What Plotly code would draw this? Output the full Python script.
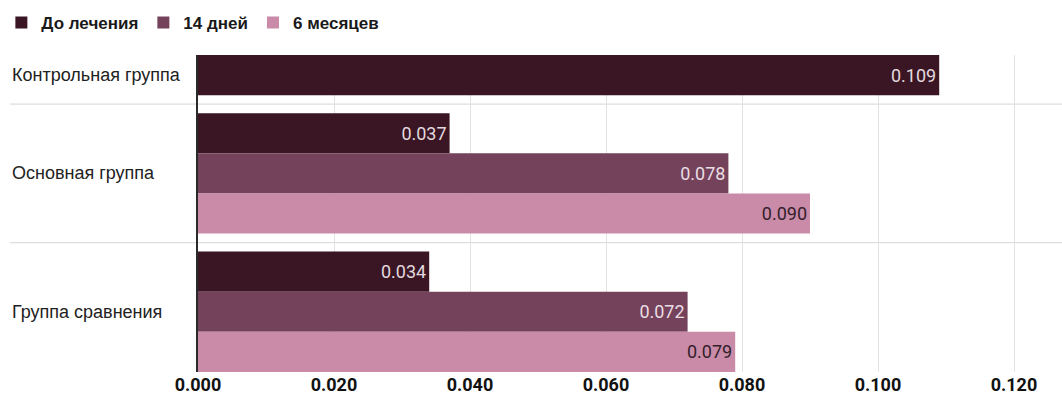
import plotly.graph_objects as go

# Data
groups = ["Контрольная группа", "Основная группа", "Группа сравнения"]
series_names = ["До лечения", "14 дней", "6 месяцев"]
# values per group, per period (control group measured once)
control_vals = [0.109]
main_vals = [0.037, 0.078, 0.090]
comparison_vals = [0.034, 0.072, 0.079]
x_ticks = [0.000, 0.020, 0.040, 0.060, 0.080, 0.100, 0.120]

colors = ["#3a1625", "#74435b", "#c98ba8"]
text_colors = ["#e3d9de", "#eadde3", "#33202b"]

group_values = [control_vals, main_vals, comparison_vals]
GAP = 0.45  # extra space between groups, in bar units

# Lay out bar slots: one slot per bar, groups separated by GAP
positions = []          # per group list of slot positions
label_pos = []          # y of group label
separators = []
cur = 0.0
for gi, vals in enumerate(group_values):
    slots = [cur + i for i in range(len(vals))]
    positions.append(slots)
    label_pos.append(slots[len(slots) // 2] if len(slots) > 1 else slots[0])
    cur = slots[-1] + 1 + GAP
    if gi < len(group_values) - 1:
        separators.append(slots[-1] + 0.5 + GAP / 2)

y_min = -0.5
y_max = positions[-1][-1] + 0.5

fig = go.Figure()
for si, name in enumerate(series_names):
    xs, ys = [], []
    for gi, vals in enumerate(group_values):
        if si < len(vals):
            xs.append(vals[si])
            ys.append(positions[gi][si])
    fig.add_trace(go.Bar(
        x=xs, y=ys, orientation="h", name=name,
        width=1.0,
        marker=dict(color=colors[si], line=dict(width=0)),
        text=[f"{v:.3f}" for v in xs],
        textposition="inside", insidetextanchor="end",
        textfont=dict(family="Roboto", size=18, color=text_colors[si]),
        cliponaxis=False,
    ))

L, R, T, B = 198, 0, 55, 29
W, H = 1062, 401
plot_w = W - L - R
x_max = 0.02 * plot_w / 136.0
left_paper = -(L - 10) / plot_w

shapes = []
for s in separators:
    shapes.append(dict(type="line", xref="paper", yref="y",
                       x0=left_paper, x1=1, y0=s, y1=s,
                       line=dict(color="#dedede", width=1.2), layer="below"))

annotations = []
for g, yp in zip(groups, label_pos):
    annotations.append(dict(text=g, xref="paper", yref="y", x=left_paper, y=yp,
                            xanchor="left", yanchor="middle", showarrow=False,
                            font=dict(family="Liberation Sans", size=18, color="#222222")))

fig.update_layout(
    width=W, height=H,
    margin=dict(l=L, r=R, t=T, b=B, pad=0),
    paper_bgcolor="white", plot_bgcolor="white",
    barmode="overlay",
    showlegend=True,
    legend=dict(orientation="h", x=left_paper - 0.01, y=1 + (T - 5) / (H - T - B),
                xanchor="left", yanchor="top",
                font=dict(family="Liberation Sans", size=17, color="#1a1a1a", weight="bold"),
                itemwidth=30, traceorder="normal"),
    xaxis=dict(range=[0, x_max], tickvals=x_ticks,
               ticktext=[f"{v:.3f}" for v in x_ticks],
               showgrid=True, gridcolor="#e2e2e2", gridwidth=1.2,
               zeroline=False, showline=False, ticks="",
               tickfont=dict(family="Roboto", size=18, color="#111111", weight="bold")),
    yaxis=dict(range=[y_max, y_min], showticklabels=False, showgrid=False,
               zeroline=False, showline=True, linecolor="#2a2a2a", linewidth=1.5,
               ticks=""),
    shapes=shapes,
    annotations=annotations,
)

fig.write_html("out.html")
